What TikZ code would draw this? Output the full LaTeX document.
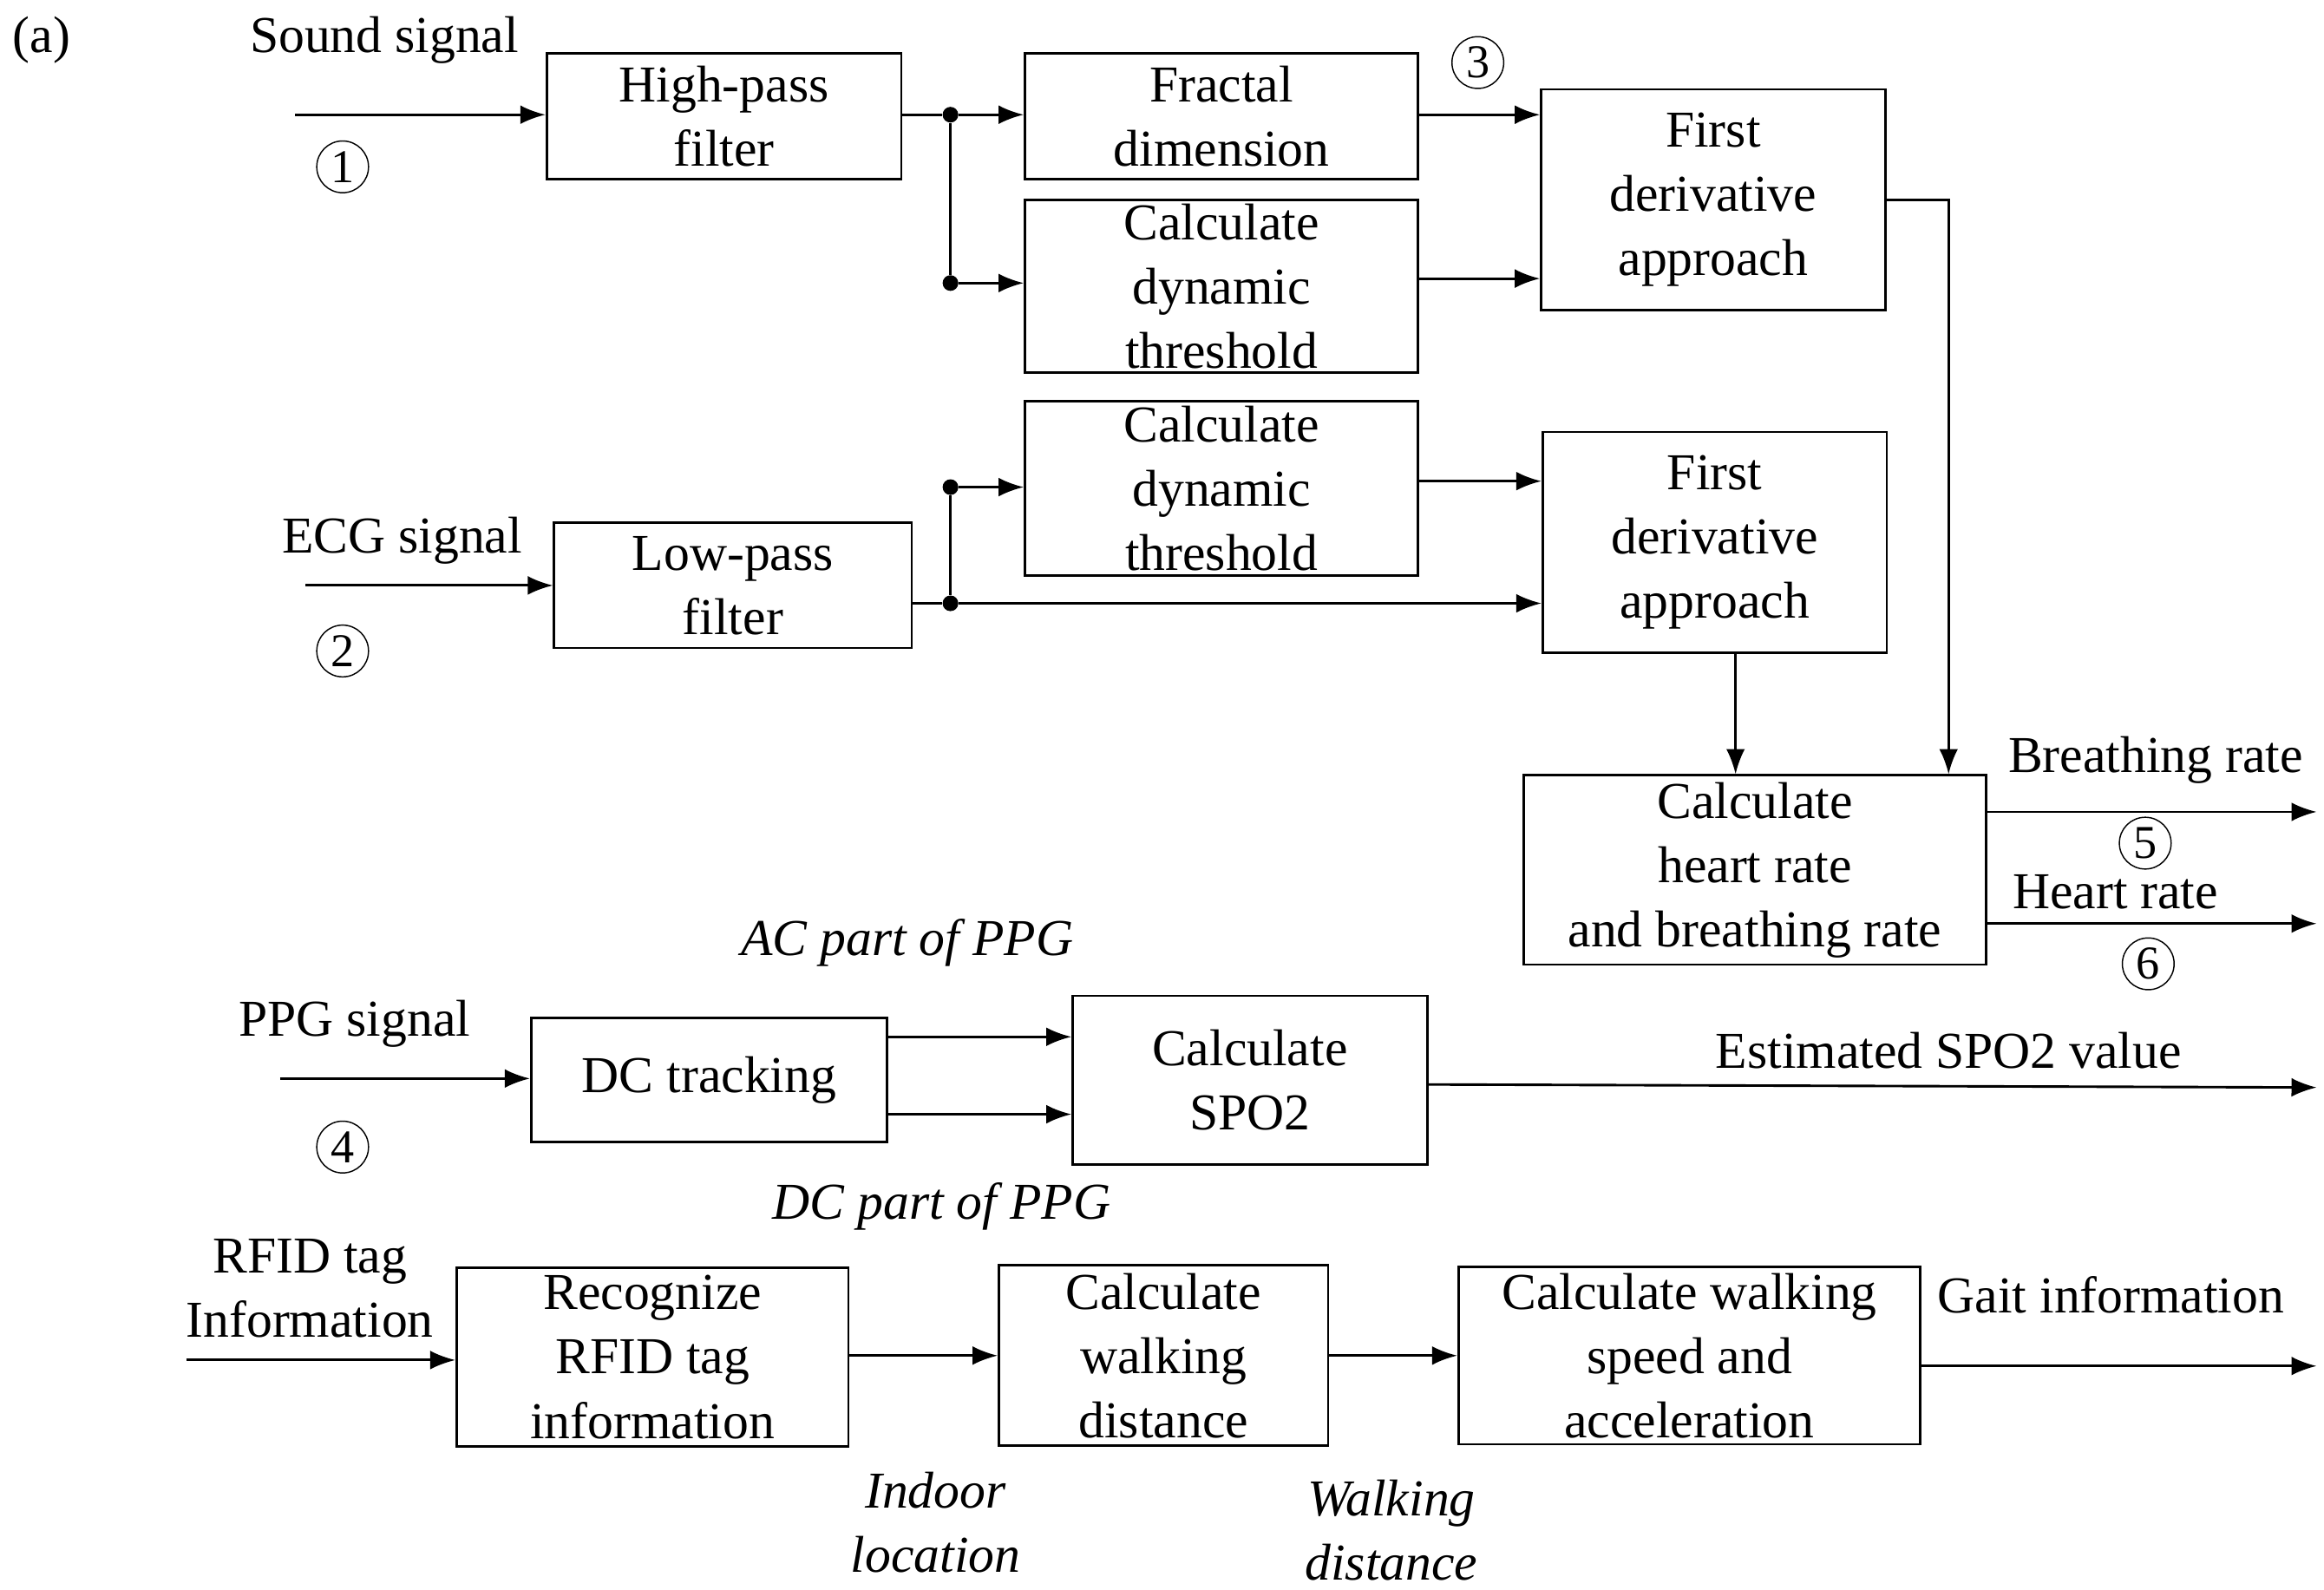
\documentclass[tikz,border=0pt]{standalone}
\usepackage{fontspec}
\setmainfont{Liberation Serif}
\usetikzlibrary{arrows.meta,positioning}
\begin{document}
\begin{tikzpicture}[x=0.0167cm,y=-0.0167cm,
  font=\fontsize{16.5}{20.5}\selectfont,
  box/.style = {draw,thick,align=center,inner sep=0pt},
  lbl/.style = {align=center,inner sep=0pt},
  ilbl/.style = {lbl,font=\fontsize{16.5}{20.5}\selectfont\itshape},
  num/.style = {circle,draw,thin,inner sep=0.5pt,minimum size=0.58cm,font=\fontsize{15}{17}\selectfont},
  dot/.style = {circle,fill,inner sep=0pt,minimum size=5pt},
  arrow/.style = {thick,-{Latex[length=8pt,width=6pt]}}
]
\useasboundingbox (0,0) rectangle (1560,1067);
% boxes
\node[box,minimum width=238*0.0167cm,minimum height=84*0.0167cm] (hp) at (486,78) {High-pass\\filter};
\node[box,minimum width=264*0.0167cm,minimum height=84*0.0167cm] (fd) at (820,78) {Fractal\\dimension};
\node[box,minimum width=264*0.0167cm,minimum height=116*0.0167cm] (cd1) at (820,192) {Calculate\\dynamic\\threshold};
\node[box,minimum width=231*0.0167cm,minimum height=148*0.0167cm] (fda1) at (1150,134) {First\\derivative\\approach};
\node[box,minimum width=264*0.0167cm,minimum height=117*0.0167cm] (cd2) at (820,328) {Calculate\\dynamic\\threshold};
\node[box,minimum width=231*0.0167cm,minimum height=148*0.0167cm] (fda2) at (1151,364) {First\\derivative\\approach};
\node[box,minimum width=240*0.0167cm,minimum height=84*0.0167cm] (lp) at (492,393) {Low-pass\\filter};
\node[box,minimum width=310*0.0167cm,minimum height=127*0.0167cm] (hr) at (1178,584) {Calculate\\heart rate\\and breathing rate};
\node[box,minimum width=239*0.0167cm,minimum height=83*0.0167cm] (dc) at (476,725) {DC tracking};
\node[box,minimum width=238*0.0167cm,minimum height=113*0.0167cm] (spo) at (839,725) {Calculate\\SPO2};
\node[box,minimum width=263*0.0167cm,minimum height=120*0.0167cm] (rec) at (438,911) {Recognize\\RFID tag\\information};
\node[box,minimum width=221*0.0167cm,minimum height=121*0.0167cm] (wd) at (781,910) {Calculate\\walking\\distance};
\node[box,minimum width=310*0.0167cm,minimum height=119*0.0167cm] (sp) at (1134,910) {Calculate walking\\speed and\\acceleration};
% labels
\node[lbl] at (28,27) {(a)};
\node[lbl] (snd) at (258,27) {Sound signal};
\node[num] at (230,112) {1};
\node[num] at (992,42) {3};
\node[lbl] (ecg) at (270,363) {ECG signal};
\node[num] at (230,437) {2};
\node[lbl] at (1447,510) {Breathing rate};
\node[num] at (1440,566) {5};
\node[lbl] at (1420,599) {Heart rate};
\node[num] at (1442,647) {6};
\node[lbl] at (238,687) {PPG signal};
\node[num] at (230,770) {4};
\node[ilbl] at (609,633) {AC part of PPG};
\node[ilbl] at (632,810) {DC part of PPG};
\node[lbl] at (1308,705) {Estimated SPO2 value};
\node[lbl] at (208,865) {RFID tag\\Information};
\node[ilbl] at (628,1022) {Indoor\\location};
\node[ilbl] at (934,1027) {Walking\\distance};
\node[lbl] at (1417,869) {Gait information};
% coordinates
\coordinate (s0) at (198,77);
\coordinate (e0) at (205,393);
\coordinate (p0) at (188,724);
\coordinate (r0) at (125,913);
\node[dot] (j1) at (638,77) {};
\node[dot] (j2) at (638,190) {};
\node[dot] (j3) at (638,327) {};
\node[dot] (j4) at (638,405) {};
\coordinate (k1) at (1308,134);
\coordinate (o1) at (1555,545);
\coordinate (o2) at (1555,620);
\coordinate (o3) at (1555,730);
\coordinate (o4) at (1555,917);
% connectors
\draw[arrow] (s0) -- (hp.west|-s0);
\draw[thick] (hp.east|-j1) -- (j1) -- (j2);
\draw[arrow] (j1) -- (fd.west|-j1);
\draw[arrow] (j2) -- (cd1.west|-j2);
\draw[arrow] (fd.east|-j1) -- (fda1.west|-j1);
\draw[arrow] (cd1.east|-0,187) -- (fda1.west|-0,187);
\draw[arrow] (fda1.east|-k1) -- (k1) -- (k1|-hr.north);
\draw[arrow] (e0) -- (lp.west|-e0);
\draw[thick] (lp.east|-j4) -- (j4) -- (j3);
\draw[arrow] (j3) -- (cd2.west|-j3);
\draw[arrow] (j4) -- (fda2.west|-j4);
\draw[arrow] (cd2.east|-0,323) -- (fda2.west|-0,323);
\draw[arrow] (fda2.south-|1165,0) -- (hr.north-|1165,0);
\draw[arrow] (hr.east|-o1) -- (o1);
\draw[arrow] (hr.east|-o2) -- (o2);
\draw[arrow] (p0) -- (dc.west|-p0);
\draw[arrow] (dc.east|-0,696) -- (spo.west|-0,696);
\draw[arrow] (dc.east|-0,748) -- (spo.west|-0,748);
\draw[arrow] (spo.east|-0,728) -- (o3);
\draw[arrow] (r0) -- (rec.west|-r0);
\draw[arrow] (rec.east|-0,910) -- (wd.west|-0,910);
\draw[arrow] (wd.east|-0,910) -- (sp.west|-0,910);
\draw[arrow] (sp.east|-o4) -- (o4);
\end{tikzpicture}
\end{document}
